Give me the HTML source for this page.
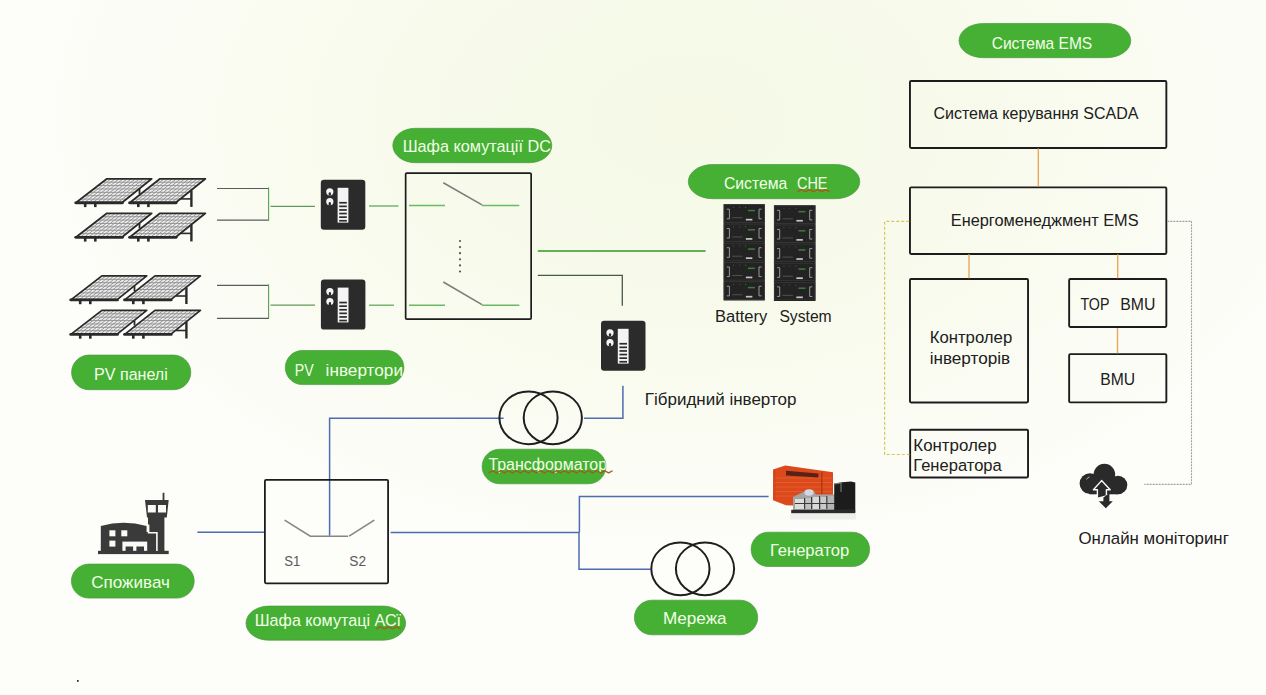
<!DOCTYPE html>
<html><head><meta charset="utf-8"><title>Diagram</title>
<style>html,body{margin:0;padding:0;background:#fbfcf7;width:1266px;height:695px;overflow:hidden}
svg{display:block}text{font-family:"Liberation Sans",sans-serif}</style></head>
<body>
<svg width="1266" height="695" viewBox="0 0 1266 695" font-family="Liberation Sans, sans-serif">
<defs>
<radialGradient id="bg" cx="690" cy="120" r="640" gradientUnits="userSpaceOnUse" gradientTransform="translate(690 120) scale(1 0.66) translate(-690 -120)">
<stop offset="0" stop-color="#f5f9e6"/><stop offset="0.55" stop-color="#f8fbed"/><stop offset="1" stop-color="#fdfdf9"/>
</radialGradient>
<filter id="soft" x="-5%" y="-5%" width="110%" height="110%"><feGaussianBlur stdDeviation="0.45"/></filter>
<clipPath id="cDC"><rect x="392.8" y="128.3" width="159" height="34.4" rx="22.6" ry="17.2"/></clipPath>
<clipPath id="cTR"><rect x="482.1" y="449.2" width="123.8" height="34.6" rx="17.6" ry="17.3"/></clipPath>
<clipPath id="cPVI"><rect x="285.3" y="350.5" width="118.6" height="34.1" rx="17"/></clipPath>
</defs>
<rect width="1266" height="695" fill="url(#bg)"/>
<polygon points="106.9,178.8 151.7,178.8 122.2,202.5 76.2,202.5" fill="#ececec" stroke="none"/>
<line x1="102.51" y1="182.19" x2="147.49" y2="182.19" stroke="#8f8f8f" stroke-width="0.9"/>
<line x1="98.13" y1="185.57" x2="143.27" y2="185.57" stroke="#8f8f8f" stroke-width="0.9"/>
<line x1="93.74" y1="188.96" x2="139.06" y2="188.96" stroke="#8f8f8f" stroke-width="0.9"/>
<line x1="89.36" y1="192.34" x2="134.84" y2="192.34" stroke="#8f8f8f" stroke-width="0.9"/>
<line x1="84.97" y1="195.73" x2="130.63" y2="195.73" stroke="#8f8f8f" stroke-width="0.9"/>
<line x1="80.59" y1="199.11" x2="126.41" y2="199.11" stroke="#8f8f8f" stroke-width="0.9"/>
<line x1="110.97" y1="178.8" x2="80.38" y2="202.5" stroke="#8f8f8f" stroke-width="0.9"/>
<line x1="115.05" y1="178.8" x2="84.56" y2="202.5" stroke="#8f8f8f" stroke-width="0.9"/>
<line x1="119.12" y1="178.8" x2="88.75" y2="202.5" stroke="#8f8f8f" stroke-width="0.9"/>
<line x1="123.19" y1="178.8" x2="92.93" y2="202.5" stroke="#8f8f8f" stroke-width="0.9"/>
<line x1="127.26" y1="178.8" x2="97.11" y2="202.5" stroke="#8f8f8f" stroke-width="0.9"/>
<line x1="131.34" y1="178.8" x2="101.29" y2="202.5" stroke="#8f8f8f" stroke-width="0.9"/>
<line x1="135.41" y1="178.8" x2="105.47" y2="202.5" stroke="#8f8f8f" stroke-width="0.9"/>
<line x1="139.48" y1="178.8" x2="109.65" y2="202.5" stroke="#8f8f8f" stroke-width="0.9"/>
<line x1="143.55" y1="178.8" x2="113.84" y2="202.5" stroke="#8f8f8f" stroke-width="0.9"/>
<line x1="147.63" y1="178.8" x2="118.02" y2="202.5" stroke="#8f8f8f" stroke-width="0.9"/>
<polygon points="106.9,178.8 151.7,178.8 122.2,202.5 76.2,202.5" fill="none" stroke="#2a2a2a" stroke-width="1.8" stroke-linejoin="round"/>
<line x1="75.7" y1="202.8" x2="122.5" y2="202.8" stroke="#2a2a2a" stroke-width="2.8" stroke-linecap="round"/>
<polygon points="160,178.8 205.4,178.8 175.9,202.5 130,202.5" fill="#ececec" stroke="none"/>
<line x1="155.71" y1="182.19" x2="201.19" y2="182.19" stroke="#8f8f8f" stroke-width="0.9"/>
<line x1="151.43" y1="185.57" x2="196.97" y2="185.57" stroke="#8f8f8f" stroke-width="0.9"/>
<line x1="147.14" y1="188.96" x2="192.76" y2="188.96" stroke="#8f8f8f" stroke-width="0.9"/>
<line x1="142.86" y1="192.34" x2="188.54" y2="192.34" stroke="#8f8f8f" stroke-width="0.9"/>
<line x1="138.57" y1="195.73" x2="184.33" y2="195.73" stroke="#8f8f8f" stroke-width="0.9"/>
<line x1="134.29" y1="199.11" x2="180.11" y2="199.11" stroke="#8f8f8f" stroke-width="0.9"/>
<line x1="164.13" y1="178.8" x2="134.17" y2="202.5" stroke="#8f8f8f" stroke-width="0.9"/>
<line x1="168.25" y1="178.8" x2="138.35" y2="202.5" stroke="#8f8f8f" stroke-width="0.9"/>
<line x1="172.38" y1="178.8" x2="142.52" y2="202.5" stroke="#8f8f8f" stroke-width="0.9"/>
<line x1="176.51" y1="178.8" x2="146.69" y2="202.5" stroke="#8f8f8f" stroke-width="0.9"/>
<line x1="180.64" y1="178.8" x2="150.86" y2="202.5" stroke="#8f8f8f" stroke-width="0.9"/>
<line x1="184.76" y1="178.8" x2="155.04" y2="202.5" stroke="#8f8f8f" stroke-width="0.9"/>
<line x1="188.89" y1="178.8" x2="159.21" y2="202.5" stroke="#8f8f8f" stroke-width="0.9"/>
<line x1="193.02" y1="178.8" x2="163.38" y2="202.5" stroke="#8f8f8f" stroke-width="0.9"/>
<line x1="197.15" y1="178.8" x2="167.55" y2="202.5" stroke="#8f8f8f" stroke-width="0.9"/>
<line x1="201.27" y1="178.8" x2="171.73" y2="202.5" stroke="#8f8f8f" stroke-width="0.9"/>
<polygon points="160,178.8 205.4,178.8 175.9,202.5 130,202.5" fill="none" stroke="#2a2a2a" stroke-width="1.8" stroke-linejoin="round"/>
<line x1="129.5" y1="202.8" x2="176.2" y2="202.8" stroke="#2a2a2a" stroke-width="2.8" stroke-linecap="round"/>
<line x1="85.2" y1="202.9" x2="85.2" y2="207.1" stroke="#2a2a2a" stroke-width="2.6"/>
<line x1="95.3" y1="202.9" x2="95.3" y2="207.1" stroke="#2a2a2a" stroke-width="2.6"/>
<line x1="138.3" y1="202.9" x2="138.3" y2="207.1" stroke="#2a2a2a" stroke-width="2.6"/>
<line x1="148.4" y1="202.9" x2="148.4" y2="207.1" stroke="#2a2a2a" stroke-width="2.6"/>
<line x1="191.4" y1="190.4" x2="191.4" y2="206.9" stroke="#2a2a2a" stroke-width="2.4"/>
<line x1="181" y1="198.9" x2="191.4" y2="198.9" stroke="#2a2a2a" stroke-width="1.6"/>
<line x1="139.5" y1="188.9" x2="139.5" y2="193.9" stroke="#2a2a2a" stroke-width="1.8"/>
<polygon points="106.9,213.3 151.7,213.3 122.2,237 76.2,237" fill="#ececec" stroke="none"/>
<line x1="102.51" y1="216.69" x2="147.49" y2="216.69" stroke="#8f8f8f" stroke-width="0.9"/>
<line x1="98.13" y1="220.07" x2="143.27" y2="220.07" stroke="#8f8f8f" stroke-width="0.9"/>
<line x1="93.74" y1="223.46" x2="139.06" y2="223.46" stroke="#8f8f8f" stroke-width="0.9"/>
<line x1="89.36" y1="226.84" x2="134.84" y2="226.84" stroke="#8f8f8f" stroke-width="0.9"/>
<line x1="84.97" y1="230.23" x2="130.63" y2="230.23" stroke="#8f8f8f" stroke-width="0.9"/>
<line x1="80.59" y1="233.61" x2="126.41" y2="233.61" stroke="#8f8f8f" stroke-width="0.9"/>
<line x1="110.97" y1="213.3" x2="80.38" y2="237" stroke="#8f8f8f" stroke-width="0.9"/>
<line x1="115.05" y1="213.3" x2="84.56" y2="237" stroke="#8f8f8f" stroke-width="0.9"/>
<line x1="119.12" y1="213.3" x2="88.75" y2="237" stroke="#8f8f8f" stroke-width="0.9"/>
<line x1="123.19" y1="213.3" x2="92.93" y2="237" stroke="#8f8f8f" stroke-width="0.9"/>
<line x1="127.26" y1="213.3" x2="97.11" y2="237" stroke="#8f8f8f" stroke-width="0.9"/>
<line x1="131.34" y1="213.3" x2="101.29" y2="237" stroke="#8f8f8f" stroke-width="0.9"/>
<line x1="135.41" y1="213.3" x2="105.47" y2="237" stroke="#8f8f8f" stroke-width="0.9"/>
<line x1="139.48" y1="213.3" x2="109.65" y2="237" stroke="#8f8f8f" stroke-width="0.9"/>
<line x1="143.55" y1="213.3" x2="113.84" y2="237" stroke="#8f8f8f" stroke-width="0.9"/>
<line x1="147.63" y1="213.3" x2="118.02" y2="237" stroke="#8f8f8f" stroke-width="0.9"/>
<polygon points="106.9,213.3 151.7,213.3 122.2,237 76.2,237" fill="none" stroke="#2a2a2a" stroke-width="1.8" stroke-linejoin="round"/>
<line x1="75.7" y1="237.3" x2="122.5" y2="237.3" stroke="#2a2a2a" stroke-width="2.8" stroke-linecap="round"/>
<polygon points="160,213.3 205.4,213.3 175.9,237 130,237" fill="#ececec" stroke="none"/>
<line x1="155.71" y1="216.69" x2="201.19" y2="216.69" stroke="#8f8f8f" stroke-width="0.9"/>
<line x1="151.43" y1="220.07" x2="196.97" y2="220.07" stroke="#8f8f8f" stroke-width="0.9"/>
<line x1="147.14" y1="223.46" x2="192.76" y2="223.46" stroke="#8f8f8f" stroke-width="0.9"/>
<line x1="142.86" y1="226.84" x2="188.54" y2="226.84" stroke="#8f8f8f" stroke-width="0.9"/>
<line x1="138.57" y1="230.23" x2="184.33" y2="230.23" stroke="#8f8f8f" stroke-width="0.9"/>
<line x1="134.29" y1="233.61" x2="180.11" y2="233.61" stroke="#8f8f8f" stroke-width="0.9"/>
<line x1="164.13" y1="213.3" x2="134.17" y2="237" stroke="#8f8f8f" stroke-width="0.9"/>
<line x1="168.25" y1="213.3" x2="138.35" y2="237" stroke="#8f8f8f" stroke-width="0.9"/>
<line x1="172.38" y1="213.3" x2="142.52" y2="237" stroke="#8f8f8f" stroke-width="0.9"/>
<line x1="176.51" y1="213.3" x2="146.69" y2="237" stroke="#8f8f8f" stroke-width="0.9"/>
<line x1="180.64" y1="213.3" x2="150.86" y2="237" stroke="#8f8f8f" stroke-width="0.9"/>
<line x1="184.76" y1="213.3" x2="155.04" y2="237" stroke="#8f8f8f" stroke-width="0.9"/>
<line x1="188.89" y1="213.3" x2="159.21" y2="237" stroke="#8f8f8f" stroke-width="0.9"/>
<line x1="193.02" y1="213.3" x2="163.38" y2="237" stroke="#8f8f8f" stroke-width="0.9"/>
<line x1="197.15" y1="213.3" x2="167.55" y2="237" stroke="#8f8f8f" stroke-width="0.9"/>
<line x1="201.27" y1="213.3" x2="171.73" y2="237" stroke="#8f8f8f" stroke-width="0.9"/>
<polygon points="160,213.3 205.4,213.3 175.9,237 130,237" fill="none" stroke="#2a2a2a" stroke-width="1.8" stroke-linejoin="round"/>
<line x1="129.5" y1="237.3" x2="176.2" y2="237.3" stroke="#2a2a2a" stroke-width="2.8" stroke-linecap="round"/>
<line x1="85.2" y1="237.4" x2="85.2" y2="241.6" stroke="#2a2a2a" stroke-width="2.6"/>
<line x1="95.3" y1="237.4" x2="95.3" y2="241.6" stroke="#2a2a2a" stroke-width="2.6"/>
<line x1="138.3" y1="237.4" x2="138.3" y2="241.6" stroke="#2a2a2a" stroke-width="2.6"/>
<line x1="148.4" y1="237.4" x2="148.4" y2="241.6" stroke="#2a2a2a" stroke-width="2.6"/>
<line x1="191.4" y1="224.9" x2="191.4" y2="241.4" stroke="#2a2a2a" stroke-width="2.4"/>
<line x1="181" y1="233.4" x2="191.4" y2="233.4" stroke="#2a2a2a" stroke-width="1.6"/>
<line x1="139.5" y1="223.4" x2="139.5" y2="228.4" stroke="#2a2a2a" stroke-width="1.8"/>
<polygon points="101.9,275.9 146.7,275.9 117.2,299.6 71.2,299.6" fill="#ececec" stroke="none"/>
<line x1="97.51" y1="279.29" x2="142.49" y2="279.29" stroke="#8f8f8f" stroke-width="0.9"/>
<line x1="93.13" y1="282.67" x2="138.27" y2="282.67" stroke="#8f8f8f" stroke-width="0.9"/>
<line x1="88.74" y1="286.06" x2="134.06" y2="286.06" stroke="#8f8f8f" stroke-width="0.9"/>
<line x1="84.36" y1="289.44" x2="129.84" y2="289.44" stroke="#8f8f8f" stroke-width="0.9"/>
<line x1="79.97" y1="292.83" x2="125.63" y2="292.83" stroke="#8f8f8f" stroke-width="0.9"/>
<line x1="75.59" y1="296.21" x2="121.41" y2="296.21" stroke="#8f8f8f" stroke-width="0.9"/>
<line x1="105.97" y1="275.9" x2="75.38" y2="299.6" stroke="#8f8f8f" stroke-width="0.9"/>
<line x1="110.05" y1="275.9" x2="79.56" y2="299.6" stroke="#8f8f8f" stroke-width="0.9"/>
<line x1="114.12" y1="275.9" x2="83.75" y2="299.6" stroke="#8f8f8f" stroke-width="0.9"/>
<line x1="118.19" y1="275.9" x2="87.93" y2="299.6" stroke="#8f8f8f" stroke-width="0.9"/>
<line x1="122.26" y1="275.9" x2="92.11" y2="299.6" stroke="#8f8f8f" stroke-width="0.9"/>
<line x1="126.34" y1="275.9" x2="96.29" y2="299.6" stroke="#8f8f8f" stroke-width="0.9"/>
<line x1="130.41" y1="275.9" x2="100.47" y2="299.6" stroke="#8f8f8f" stroke-width="0.9"/>
<line x1="134.48" y1="275.9" x2="104.65" y2="299.6" stroke="#8f8f8f" stroke-width="0.9"/>
<line x1="138.55" y1="275.9" x2="108.84" y2="299.6" stroke="#8f8f8f" stroke-width="0.9"/>
<line x1="142.63" y1="275.9" x2="113.02" y2="299.6" stroke="#8f8f8f" stroke-width="0.9"/>
<polygon points="101.9,275.9 146.7,275.9 117.2,299.6 71.2,299.6" fill="none" stroke="#2a2a2a" stroke-width="1.8" stroke-linejoin="round"/>
<line x1="70.7" y1="299.9" x2="117.5" y2="299.9" stroke="#2a2a2a" stroke-width="2.8" stroke-linecap="round"/>
<polygon points="155,275.9 200.4,275.9 170.9,299.6 125,299.6" fill="#ececec" stroke="none"/>
<line x1="150.71" y1="279.29" x2="196.19" y2="279.29" stroke="#8f8f8f" stroke-width="0.9"/>
<line x1="146.43" y1="282.67" x2="191.97" y2="282.67" stroke="#8f8f8f" stroke-width="0.9"/>
<line x1="142.14" y1="286.06" x2="187.76" y2="286.06" stroke="#8f8f8f" stroke-width="0.9"/>
<line x1="137.86" y1="289.44" x2="183.54" y2="289.44" stroke="#8f8f8f" stroke-width="0.9"/>
<line x1="133.57" y1="292.83" x2="179.33" y2="292.83" stroke="#8f8f8f" stroke-width="0.9"/>
<line x1="129.29" y1="296.21" x2="175.11" y2="296.21" stroke="#8f8f8f" stroke-width="0.9"/>
<line x1="159.13" y1="275.9" x2="129.17" y2="299.6" stroke="#8f8f8f" stroke-width="0.9"/>
<line x1="163.25" y1="275.9" x2="133.35" y2="299.6" stroke="#8f8f8f" stroke-width="0.9"/>
<line x1="167.38" y1="275.9" x2="137.52" y2="299.6" stroke="#8f8f8f" stroke-width="0.9"/>
<line x1="171.51" y1="275.9" x2="141.69" y2="299.6" stroke="#8f8f8f" stroke-width="0.9"/>
<line x1="175.64" y1="275.9" x2="145.86" y2="299.6" stroke="#8f8f8f" stroke-width="0.9"/>
<line x1="179.76" y1="275.9" x2="150.04" y2="299.6" stroke="#8f8f8f" stroke-width="0.9"/>
<line x1="183.89" y1="275.9" x2="154.21" y2="299.6" stroke="#8f8f8f" stroke-width="0.9"/>
<line x1="188.02" y1="275.9" x2="158.38" y2="299.6" stroke="#8f8f8f" stroke-width="0.9"/>
<line x1="192.15" y1="275.9" x2="162.55" y2="299.6" stroke="#8f8f8f" stroke-width="0.9"/>
<line x1="196.27" y1="275.9" x2="166.73" y2="299.6" stroke="#8f8f8f" stroke-width="0.9"/>
<polygon points="155,275.9 200.4,275.9 170.9,299.6 125,299.6" fill="none" stroke="#2a2a2a" stroke-width="1.8" stroke-linejoin="round"/>
<line x1="124.5" y1="299.9" x2="171.2" y2="299.9" stroke="#2a2a2a" stroke-width="2.8" stroke-linecap="round"/>
<line x1="80.2" y1="300" x2="80.2" y2="304.2" stroke="#2a2a2a" stroke-width="2.6"/>
<line x1="90.3" y1="300" x2="90.3" y2="304.2" stroke="#2a2a2a" stroke-width="2.6"/>
<line x1="133.3" y1="300" x2="133.3" y2="304.2" stroke="#2a2a2a" stroke-width="2.6"/>
<line x1="143.4" y1="300" x2="143.4" y2="304.2" stroke="#2a2a2a" stroke-width="2.6"/>
<line x1="186.4" y1="287.5" x2="186.4" y2="304" stroke="#2a2a2a" stroke-width="2.4"/>
<line x1="176" y1="296" x2="186.4" y2="296" stroke="#2a2a2a" stroke-width="1.6"/>
<line x1="134.5" y1="286" x2="134.5" y2="291" stroke="#2a2a2a" stroke-width="1.8"/>
<polygon points="101.9,310.4 146.7,310.4 117.2,334.1 71.2,334.1" fill="#ececec" stroke="none"/>
<line x1="97.51" y1="313.79" x2="142.49" y2="313.79" stroke="#8f8f8f" stroke-width="0.9"/>
<line x1="93.13" y1="317.17" x2="138.27" y2="317.17" stroke="#8f8f8f" stroke-width="0.9"/>
<line x1="88.74" y1="320.56" x2="134.06" y2="320.56" stroke="#8f8f8f" stroke-width="0.9"/>
<line x1="84.36" y1="323.94" x2="129.84" y2="323.94" stroke="#8f8f8f" stroke-width="0.9"/>
<line x1="79.97" y1="327.33" x2="125.63" y2="327.33" stroke="#8f8f8f" stroke-width="0.9"/>
<line x1="75.59" y1="330.71" x2="121.41" y2="330.71" stroke="#8f8f8f" stroke-width="0.9"/>
<line x1="105.97" y1="310.4" x2="75.38" y2="334.1" stroke="#8f8f8f" stroke-width="0.9"/>
<line x1="110.05" y1="310.4" x2="79.56" y2="334.1" stroke="#8f8f8f" stroke-width="0.9"/>
<line x1="114.12" y1="310.4" x2="83.75" y2="334.1" stroke="#8f8f8f" stroke-width="0.9"/>
<line x1="118.19" y1="310.4" x2="87.93" y2="334.1" stroke="#8f8f8f" stroke-width="0.9"/>
<line x1="122.26" y1="310.4" x2="92.11" y2="334.1" stroke="#8f8f8f" stroke-width="0.9"/>
<line x1="126.34" y1="310.4" x2="96.29" y2="334.1" stroke="#8f8f8f" stroke-width="0.9"/>
<line x1="130.41" y1="310.4" x2="100.47" y2="334.1" stroke="#8f8f8f" stroke-width="0.9"/>
<line x1="134.48" y1="310.4" x2="104.65" y2="334.1" stroke="#8f8f8f" stroke-width="0.9"/>
<line x1="138.55" y1="310.4" x2="108.84" y2="334.1" stroke="#8f8f8f" stroke-width="0.9"/>
<line x1="142.63" y1="310.4" x2="113.02" y2="334.1" stroke="#8f8f8f" stroke-width="0.9"/>
<polygon points="101.9,310.4 146.7,310.4 117.2,334.1 71.2,334.1" fill="none" stroke="#2a2a2a" stroke-width="1.8" stroke-linejoin="round"/>
<line x1="70.7" y1="334.4" x2="117.5" y2="334.4" stroke="#2a2a2a" stroke-width="2.8" stroke-linecap="round"/>
<polygon points="155,310.4 200.4,310.4 170.9,334.1 125,334.1" fill="#ececec" stroke="none"/>
<line x1="150.71" y1="313.79" x2="196.19" y2="313.79" stroke="#8f8f8f" stroke-width="0.9"/>
<line x1="146.43" y1="317.17" x2="191.97" y2="317.17" stroke="#8f8f8f" stroke-width="0.9"/>
<line x1="142.14" y1="320.56" x2="187.76" y2="320.56" stroke="#8f8f8f" stroke-width="0.9"/>
<line x1="137.86" y1="323.94" x2="183.54" y2="323.94" stroke="#8f8f8f" stroke-width="0.9"/>
<line x1="133.57" y1="327.33" x2="179.33" y2="327.33" stroke="#8f8f8f" stroke-width="0.9"/>
<line x1="129.29" y1="330.71" x2="175.11" y2="330.71" stroke="#8f8f8f" stroke-width="0.9"/>
<line x1="159.13" y1="310.4" x2="129.17" y2="334.1" stroke="#8f8f8f" stroke-width="0.9"/>
<line x1="163.25" y1="310.4" x2="133.35" y2="334.1" stroke="#8f8f8f" stroke-width="0.9"/>
<line x1="167.38" y1="310.4" x2="137.52" y2="334.1" stroke="#8f8f8f" stroke-width="0.9"/>
<line x1="171.51" y1="310.4" x2="141.69" y2="334.1" stroke="#8f8f8f" stroke-width="0.9"/>
<line x1="175.64" y1="310.4" x2="145.86" y2="334.1" stroke="#8f8f8f" stroke-width="0.9"/>
<line x1="179.76" y1="310.4" x2="150.04" y2="334.1" stroke="#8f8f8f" stroke-width="0.9"/>
<line x1="183.89" y1="310.4" x2="154.21" y2="334.1" stroke="#8f8f8f" stroke-width="0.9"/>
<line x1="188.02" y1="310.4" x2="158.38" y2="334.1" stroke="#8f8f8f" stroke-width="0.9"/>
<line x1="192.15" y1="310.4" x2="162.55" y2="334.1" stroke="#8f8f8f" stroke-width="0.9"/>
<line x1="196.27" y1="310.4" x2="166.73" y2="334.1" stroke="#8f8f8f" stroke-width="0.9"/>
<polygon points="155,310.4 200.4,310.4 170.9,334.1 125,334.1" fill="none" stroke="#2a2a2a" stroke-width="1.8" stroke-linejoin="round"/>
<line x1="124.5" y1="334.4" x2="171.2" y2="334.4" stroke="#2a2a2a" stroke-width="2.8" stroke-linecap="round"/>
<line x1="80.2" y1="334.5" x2="80.2" y2="338.7" stroke="#2a2a2a" stroke-width="2.6"/>
<line x1="90.3" y1="334.5" x2="90.3" y2="338.7" stroke="#2a2a2a" stroke-width="2.6"/>
<line x1="133.3" y1="334.5" x2="133.3" y2="338.7" stroke="#2a2a2a" stroke-width="2.6"/>
<line x1="143.4" y1="334.5" x2="143.4" y2="338.7" stroke="#2a2a2a" stroke-width="2.6"/>
<line x1="186.4" y1="322" x2="186.4" y2="338.5" stroke="#2a2a2a" stroke-width="2.4"/>
<line x1="176" y1="330.5" x2="186.4" y2="330.5" stroke="#2a2a2a" stroke-width="1.6"/>
<line x1="134.5" y1="320.5" x2="134.5" y2="325.5" stroke="#2a2a2a" stroke-width="1.8"/>
<rect x="320.8" y="179.8" width="44.5" height="50" rx="3.2" fill="#2b2b2b"/>
<circle cx="329.8" cy="191.8" r="3.6" fill="#f4f4f4"/>
<path d="M328.7,195.6 v-2.3 a1.1,1.1 0 0 1 2.2,0 v2.3 z" fill="#2b2b2b"/>
<circle cx="329.8" cy="201.7" r="3.6" fill="#f4f4f4"/>
<path d="M328.7,205.5 v-2.3 a1.1,1.1 0 0 1 2.2,0 v2.3 z" fill="#2b2b2b"/>
<rect x="337.6" y="187.8" width="10.8" height="34.8" fill="#f4f4f4"/>
<rect x="339.2" y="201.9" width="7.6" height="1.7" fill="#2b2b2b"/>
<rect x="339.2" y="205.5" width="7.6" height="1.7" fill="#2b2b2b"/>
<rect x="339.2" y="209.1" width="7.6" height="1.7" fill="#2b2b2b"/>
<rect x="339.2" y="212.7" width="7.6" height="1.7" fill="#2b2b2b"/>
<rect x="339.2" y="216.3" width="7.6" height="1.7" fill="#2b2b2b"/>
<rect x="339.2" y="219.9" width="7.6" height="1.7" fill="#2b2b2b"/>
<rect x="320.9" y="279.6" width="44.5" height="50" rx="3.2" fill="#2b2b2b"/>
<circle cx="329.9" cy="291.6" r="3.6" fill="#f4f4f4"/>
<path d="M328.8,295.4 v-2.3 a1.1,1.1 0 0 1 2.2,0 v2.3 z" fill="#2b2b2b"/>
<circle cx="329.9" cy="301.5" r="3.6" fill="#f4f4f4"/>
<path d="M328.8,305.3 v-2.3 a1.1,1.1 0 0 1 2.2,0 v2.3 z" fill="#2b2b2b"/>
<rect x="337.7" y="287.6" width="10.8" height="34.8" fill="#f4f4f4"/>
<rect x="339.3" y="301.7" width="7.6" height="1.7" fill="#2b2b2b"/>
<rect x="339.3" y="305.3" width="7.6" height="1.7" fill="#2b2b2b"/>
<rect x="339.3" y="308.9" width="7.6" height="1.7" fill="#2b2b2b"/>
<rect x="339.3" y="312.5" width="7.6" height="1.7" fill="#2b2b2b"/>
<rect x="339.3" y="316.1" width="7.6" height="1.7" fill="#2b2b2b"/>
<rect x="339.3" y="319.7" width="7.6" height="1.7" fill="#2b2b2b"/>
<rect x="601" y="320.8" width="44.5" height="50" rx="3.2" fill="#2b2b2b"/>
<circle cx="610" cy="332.8" r="3.6" fill="#f4f4f4"/>
<path d="M608.9,336.6 v-2.3 a1.1,1.1 0 0 1 2.2,0 v2.3 z" fill="#2b2b2b"/>
<circle cx="610" cy="342.7" r="3.6" fill="#f4f4f4"/>
<path d="M608.9,346.5 v-2.3 a1.1,1.1 0 0 1 2.2,0 v2.3 z" fill="#2b2b2b"/>
<rect x="617.8" y="328.8" width="10.8" height="34.8" fill="#f4f4f4"/>
<rect x="619.4" y="342.9" width="7.6" height="1.7" fill="#2b2b2b"/>
<rect x="619.4" y="346.5" width="7.6" height="1.7" fill="#2b2b2b"/>
<rect x="619.4" y="350.1" width="7.6" height="1.7" fill="#2b2b2b"/>
<rect x="619.4" y="353.7" width="7.6" height="1.7" fill="#2b2b2b"/>
<rect x="619.4" y="357.3" width="7.6" height="1.7" fill="#2b2b2b"/>
<rect x="619.4" y="360.9" width="7.6" height="1.7" fill="#2b2b2b"/>
<line x1="217" y1="188.5" x2="269" y2="188.5" stroke="#575e57" stroke-width="1.2" />
<line x1="217" y1="220.2" x2="269" y2="220.2" stroke="#575e57" stroke-width="1.2" />
<line x1="268.6" y1="187.5" x2="268.6" y2="220.2" stroke="#58a04e" stroke-width="1.1" />
<line x1="270.5" y1="206.3" x2="315" y2="206.3" stroke="#649a5a" stroke-width="1.3" />
<line x1="217" y1="285.4" x2="269" y2="285.4" stroke="#575e57" stroke-width="1.2" />
<line x1="217" y1="318.3" x2="269" y2="318.3" stroke="#575e57" stroke-width="1.2" />
<line x1="268.6" y1="284.4" x2="268.6" y2="318.3" stroke="#58a04e" stroke-width="1.1" />
<line x1="270.5" y1="305.1" x2="315" y2="305.1" stroke="#649a5a" stroke-width="1.3" />
<line x1="369" y1="206" x2="398.4" y2="206" stroke="#62aa5a" stroke-width="1.3" />
<line x1="369" y1="305.2" x2="394" y2="305.2" stroke="#62aa5a" stroke-width="1.3" />
<rect x="405.65" y="173.15" width="125.5" height="146" rx="1.2" fill="none" stroke="#1c1c1c" stroke-width="1.7"/>
<line x1="409" y1="205.5" x2="445" y2="205.5" stroke="#6aba62" stroke-width="1.5" />
<line x1="482" y1="205.5" x2="519.3" y2="205.5" stroke="#6aba62" stroke-width="1.5" />
<line x1="443.3" y1="182.7" x2="482" y2="204.9" stroke="#7d7d7d" stroke-width="1.6" />
<line x1="409" y1="305.2" x2="445" y2="305.2" stroke="#6aba62" stroke-width="1.5" />
<line x1="482" y1="305.2" x2="519.3" y2="305.2" stroke="#6aba62" stroke-width="1.5" />
<line x1="443.3" y1="282" x2="482" y2="304.6" stroke="#7d7d7d" stroke-width="1.6" />
<circle cx="460" cy="241" r="1.1" fill="#555"/>
<circle cx="460" cy="247.1" r="1.1" fill="#555"/>
<circle cx="460" cy="253.2" r="1.1" fill="#555"/>
<circle cx="460" cy="259.3" r="1.1" fill="#555"/>
<circle cx="460" cy="265.4" r="1.1" fill="#555"/>
<circle cx="460" cy="271.5" r="1.1" fill="#555"/>
<line x1="537.8" y1="251" x2="705.6" y2="251" stroke="#5db355" stroke-width="2" />
<polyline points="537.8,275.3 622.3,275.3 622.3,305.8" fill="none" stroke="#4a574a" stroke-width="1.3" />
<rect x="723.6" y="204.2" width="41.2" height="96.3" fill="#1d1d1d"/>
<rect x="724.1" y="204.7" width="40.2" height="17.66" fill="#232323" stroke="#3b3b3b" stroke-width="0.8"/>
<path d="M726.8,209.2 h2.6 v9.6 h-2.6" fill="none" stroke="#9a9a9a" stroke-width="1"/>
<path d="M761.6,209.2 h-2.6 v9.6 h2.6" fill="none" stroke="#9a9a9a" stroke-width="1"/>
<rect x="747.91" y="209.8" width="7" height="1.5" fill="#3e7a3e"/>
<rect x="745.85" y="218.8" width="6.5" height="1.7" fill="#c4c4c4"/>
<line x1="732.1" y1="217.7" x2="742.55" y2="217.7" stroke="#5a5a5a" stroke-width="0.8"/>
<circle cx="733.6" cy="207.4" r="0.6" fill="#4a4a4a"/><circle cx="739.6" cy="207.4" r="0.6" fill="#4a4a4a"/><circle cx="745.6" cy="207.4" r="0.6" fill="#3e6a3e"/>
<rect x="724.1" y="223.96" width="40.2" height="17.66" fill="#232323" stroke="#3b3b3b" stroke-width="0.8"/>
<path d="M726.8,228.46 h2.6 v9.6 h-2.6" fill="none" stroke="#9a9a9a" stroke-width="1"/>
<path d="M761.6,228.46 h-2.6 v9.6 h2.6" fill="none" stroke="#9a9a9a" stroke-width="1"/>
<rect x="747.91" y="229.06" width="7" height="1.5" fill="#3e7a3e"/>
<rect x="745.85" y="238.06" width="6.5" height="1.7" fill="#c4c4c4"/>
<line x1="732.1" y1="236.96" x2="742.55" y2="236.96" stroke="#5a5a5a" stroke-width="0.8"/>
<circle cx="733.6" cy="226.66" r="0.6" fill="#4a4a4a"/><circle cx="739.6" cy="226.66" r="0.6" fill="#4a4a4a"/><circle cx="745.6" cy="226.66" r="0.6" fill="#3e6a3e"/>
<rect x="724.1" y="243.22" width="40.2" height="17.66" fill="#232323" stroke="#3b3b3b" stroke-width="0.8"/>
<path d="M726.8,247.72 h2.6 v9.6 h-2.6" fill="none" stroke="#9a9a9a" stroke-width="1"/>
<path d="M761.6,247.72 h-2.6 v9.6 h2.6" fill="none" stroke="#9a9a9a" stroke-width="1"/>
<rect x="747.91" y="248.32" width="7" height="1.5" fill="#3e7a3e"/>
<rect x="745.85" y="257.32" width="6.5" height="1.7" fill="#c4c4c4"/>
<line x1="732.1" y1="256.22" x2="742.55" y2="256.22" stroke="#5a5a5a" stroke-width="0.8"/>
<circle cx="733.6" cy="245.92" r="0.6" fill="#4a4a4a"/><circle cx="739.6" cy="245.92" r="0.6" fill="#4a4a4a"/><circle cx="745.6" cy="245.92" r="0.6" fill="#3e6a3e"/>
<rect x="724.1" y="262.48" width="40.2" height="17.66" fill="#232323" stroke="#3b3b3b" stroke-width="0.8"/>
<path d="M726.8,266.98 h2.6 v9.6 h-2.6" fill="none" stroke="#9a9a9a" stroke-width="1"/>
<path d="M761.6,266.98 h-2.6 v9.6 h2.6" fill="none" stroke="#9a9a9a" stroke-width="1"/>
<rect x="747.91" y="267.58" width="7" height="1.5" fill="#3e7a3e"/>
<rect x="745.85" y="276.58" width="6.5" height="1.7" fill="#c4c4c4"/>
<line x1="732.1" y1="275.48" x2="742.55" y2="275.48" stroke="#5a5a5a" stroke-width="0.8"/>
<circle cx="733.6" cy="265.18" r="0.6" fill="#4a4a4a"/><circle cx="739.6" cy="265.18" r="0.6" fill="#4a4a4a"/><circle cx="745.6" cy="265.18" r="0.6" fill="#3e6a3e"/>
<rect x="724.1" y="281.74" width="40.2" height="17.66" fill="#232323" stroke="#3b3b3b" stroke-width="0.8"/>
<path d="M726.8,286.24 h2.6 v9.6 h-2.6" fill="none" stroke="#9a9a9a" stroke-width="1"/>
<path d="M761.6,286.24 h-2.6 v9.6 h2.6" fill="none" stroke="#9a9a9a" stroke-width="1"/>
<rect x="747.91" y="286.84" width="7" height="1.5" fill="#3e7a3e"/>
<rect x="745.85" y="295.84" width="6.5" height="1.7" fill="#c4c4c4"/>
<line x1="732.1" y1="294.74" x2="742.55" y2="294.74" stroke="#5a5a5a" stroke-width="0.8"/>
<circle cx="733.6" cy="284.44" r="0.6" fill="#4a4a4a"/><circle cx="739.6" cy="284.44" r="0.6" fill="#4a4a4a"/><circle cx="745.6" cy="284.44" r="0.6" fill="#3e6a3e"/>
<rect x="773.9" y="205.3" width="41.6" height="95.7" fill="#1d1d1d"/>
<rect x="774.4" y="205.8" width="40.6" height="17.54" fill="#232323" stroke="#3b3b3b" stroke-width="0.8"/>
<path d="M777.1,210.3 h2.6 v9.6 h-2.6" fill="none" stroke="#9a9a9a" stroke-width="1"/>
<path d="M812.3,210.3 h-2.6 v9.6 h2.6" fill="none" stroke="#9a9a9a" stroke-width="1"/>
<rect x="798.44" y="210.9" width="7" height="1.5" fill="#3e7a3e"/>
<rect x="796.36" y="219.9" width="6.5" height="1.7" fill="#c4c4c4"/>
<line x1="782.4" y1="218.8" x2="793.04" y2="218.8" stroke="#5a5a5a" stroke-width="0.8"/>
<circle cx="783.9" cy="208.5" r="0.6" fill="#4a4a4a"/><circle cx="789.9" cy="208.5" r="0.6" fill="#4a4a4a"/><circle cx="795.9" cy="208.5" r="0.6" fill="#3e6a3e"/>
<rect x="774.4" y="224.94" width="40.6" height="17.54" fill="#232323" stroke="#3b3b3b" stroke-width="0.8"/>
<path d="M777.1,229.44 h2.6 v9.6 h-2.6" fill="none" stroke="#9a9a9a" stroke-width="1"/>
<path d="M812.3,229.44 h-2.6 v9.6 h2.6" fill="none" stroke="#9a9a9a" stroke-width="1"/>
<rect x="798.44" y="230.04" width="7" height="1.5" fill="#3e7a3e"/>
<rect x="796.36" y="239.04" width="6.5" height="1.7" fill="#c4c4c4"/>
<line x1="782.4" y1="237.94" x2="793.04" y2="237.94" stroke="#5a5a5a" stroke-width="0.8"/>
<circle cx="783.9" cy="227.64" r="0.6" fill="#4a4a4a"/><circle cx="789.9" cy="227.64" r="0.6" fill="#4a4a4a"/><circle cx="795.9" cy="227.64" r="0.6" fill="#3e6a3e"/>
<rect x="774.4" y="244.08" width="40.6" height="17.54" fill="#232323" stroke="#3b3b3b" stroke-width="0.8"/>
<path d="M777.1,248.58 h2.6 v9.6 h-2.6" fill="none" stroke="#9a9a9a" stroke-width="1"/>
<path d="M812.3,248.58 h-2.6 v9.6 h2.6" fill="none" stroke="#9a9a9a" stroke-width="1"/>
<rect x="798.44" y="249.18" width="7" height="1.5" fill="#3e7a3e"/>
<rect x="796.36" y="258.18" width="6.5" height="1.7" fill="#c4c4c4"/>
<line x1="782.4" y1="257.08" x2="793.04" y2="257.08" stroke="#5a5a5a" stroke-width="0.8"/>
<circle cx="783.9" cy="246.78" r="0.6" fill="#4a4a4a"/><circle cx="789.9" cy="246.78" r="0.6" fill="#4a4a4a"/><circle cx="795.9" cy="246.78" r="0.6" fill="#3e6a3e"/>
<rect x="774.4" y="263.22" width="40.6" height="17.54" fill="#232323" stroke="#3b3b3b" stroke-width="0.8"/>
<path d="M777.1,267.72 h2.6 v9.6 h-2.6" fill="none" stroke="#9a9a9a" stroke-width="1"/>
<path d="M812.3,267.72 h-2.6 v9.6 h2.6" fill="none" stroke="#9a9a9a" stroke-width="1"/>
<rect x="798.44" y="268.32" width="7" height="1.5" fill="#3e7a3e"/>
<rect x="796.36" y="277.32" width="6.5" height="1.7" fill="#c4c4c4"/>
<line x1="782.4" y1="276.22" x2="793.04" y2="276.22" stroke="#5a5a5a" stroke-width="0.8"/>
<circle cx="783.9" cy="265.92" r="0.6" fill="#4a4a4a"/><circle cx="789.9" cy="265.92" r="0.6" fill="#4a4a4a"/><circle cx="795.9" cy="265.92" r="0.6" fill="#3e6a3e"/>
<rect x="774.4" y="282.36" width="40.6" height="17.54" fill="#232323" stroke="#3b3b3b" stroke-width="0.8"/>
<path d="M777.1,286.86 h2.6 v9.6 h-2.6" fill="none" stroke="#9a9a9a" stroke-width="1"/>
<path d="M812.3,286.86 h-2.6 v9.6 h2.6" fill="none" stroke="#9a9a9a" stroke-width="1"/>
<rect x="798.44" y="287.46" width="7" height="1.5" fill="#3e7a3e"/>
<rect x="796.36" y="296.46" width="6.5" height="1.7" fill="#c4c4c4"/>
<line x1="782.4" y1="295.36" x2="793.04" y2="295.36" stroke="#5a5a5a" stroke-width="0.8"/>
<circle cx="783.9" cy="285.06" r="0.6" fill="#4a4a4a"/><circle cx="789.9" cy="285.06" r="0.6" fill="#4a4a4a"/><circle cx="795.9" cy="285.06" r="0.6" fill="#3e6a3e"/>
<polyline points="622.9,385.7 622.9,418.3 584,418.3" fill="none" stroke="#4e6cb0" stroke-width="1.5" />
<polyline points="503.6,418.3 329.6,418.3 329.6,535.7" fill="none" stroke="#4e6cb0" stroke-width="1.5" />
<line x1="197.3" y1="532.2" x2="264.6" y2="532.2" stroke="#4e6cb0" stroke-width="1.5" />
<line x1="390.6" y1="532.4" x2="579.4" y2="532.4" stroke="#4e6cb0" stroke-width="1.5" />
<polyline points="768.6,496.5 579.4,496.5 579.4,532.4" fill="none" stroke="#4e6cb0" stroke-width="1.5" />
<polyline points="579,532.4 579,569.2 650.6,569.2" fill="none" stroke="#4e6cb0" stroke-width="1.5" />
<ellipse cx="528.5" cy="417.8" rx="29.1" ry="26.4" fill="none" stroke="#1e1e1e" stroke-width="2"/>
<ellipse cx="552.8" cy="417.8" rx="29.1" ry="26.4" fill="none" stroke="#1e1e1e" stroke-width="2"/>
<ellipse cx="680.4" cy="568.8" rx="29.1" ry="26.4" fill="none" stroke="#1e1e1e" stroke-width="2"/>
<ellipse cx="705.0" cy="568.8" rx="29.1" ry="26.4" fill="none" stroke="#1e1e1e" stroke-width="2"/>
<rect x="264.9" y="479.9" width="123.2" height="103.4" rx="1.2" fill="none" stroke="#1c1c1c" stroke-width="1.8"/>
<polyline points="284.6,520.1 310.3,536.2 348.1,536.2" fill="none" stroke="#858585" stroke-width="1.6" />
<line x1="349.1" y1="536.2" x2="374.3" y2="520.1" stroke="#858585" stroke-width="1.6" />
<g fill="#3a3a3a">
<path d="M100.8,554 V526 Q123.5,519.5 146.6,526 V554 Z"/>
<rect x="98" y="550.8" width="70.7" height="3.3"/>
<rect x="162.6" y="492.8" width="1.8" height="8"/>
<path d="M145,500 H168.7 L166.8,517.4 H147 Z"/>
<rect x="148" y="517" width="16.4" height="37"/>
<rect x="146" y="532" width="12" height="22"/>
</g>
<g fill="#fafaf6">
<rect x="147.8" y="505" width="8" height="7.5"/><rect x="158" y="505" width="8" height="7.5"/>
<rect x="109.4" y="530.3" width="6" height="6"/><rect x="121.3" y="530.3" width="6" height="6"/><rect x="109.4" y="540.6" width="6" height="6"/>
<rect x="122.4" y="541.6" width="24.8" height="9.2"/>
<path d="M146.6,526 V531 H153 V554 H155.3 V534.6 H150.4 V521" fill="none"/>
</g>
<rect x="125.6" y="546.5" width="7.5" height="7.5" fill="#3a3a3a"/><rect x="136.4" y="546.5" width="7.6" height="7.5" fill="#3a3a3a"/>
<path d="M148.6,524.5 V532.8 H156.9 V551" fill="none" stroke="#fafaf6" stroke-width="1.6"/>

<g filter="url(#soft)">
<rect x="790" y="513.5" width="66" height="6" fill="#e4e4e4" opacity="0.6"/>
<path d="M773,469.4 L785.3,465.4 L833,472.2 L833,495 L793,505.5 L786,505.3 L773,500.3 Z" fill="#dc4a1c"/>
<path d="M774,478 H832 M774,482.5 H832 M774,487 H832 M774,491.5 H832 M774,496 H822" stroke="#ee7a44" stroke-width="0.7" fill="none" opacity="0.55"/>
<path d="M786,470.8 L818.4,473.5 L818.4,477.5 L786,475.5 Z" fill="#5a2414"/>
<path d="M821.8,472 V494" stroke="#a83410" stroke-width="1.4" fill="none" opacity="0.8"/>
<path d="M775,470 V499" stroke="#b83c14" stroke-width="0.8" fill="none" opacity="0.6"/>
<path d="M793,510.5 L793,497 L800,493.5 L808,490 L813,490 L816,494.4 L836.8,494.4 L836.8,510.5 Z" fill="#a4a4a4"/>
<ellipse cx="809" cy="492.5" rx="4.5" ry="3.2" fill="#d4d6de"/>
<rect x="795" y="499" width="9" height="10" fill="#dcdcdc"/>
<rect x="806" y="498" width="5" height="11" fill="#c0c0c0"/>
<rect x="813" y="497" width="6" height="12" fill="#d8d8d8"/>
<rect x="821" y="497" width="5" height="12" fill="#cacaca"/>
<rect x="828" y="496" width="7" height="13" fill="#b4b4b4"/>
<path d="M804.5,498 V509 M811.5,497 V509 M819.5,496 V509 M826.8,496 V509 M795,503.5 H836" stroke="#3a3a3a" stroke-width="1" fill="none"/>
<path d="M834.2,483.5 L842,482.2 L851,481.5 L855.3,482.5 L855.3,512.6 L834.2,512.6 Z" fill="#1e1e1e"/>
<path d="M835,484 L841,483 L841,492" stroke="#9a9a9a" stroke-width="0.8" fill="none"/>
<rect x="791.2" y="509.8" width="64" height="3.4" fill="#2a2a2a"/>
</g>
<rect x="909.95" y="80.95" width="256.4" height="67.1" rx="1.2" fill="none" stroke="#1c1c1c" stroke-width="1.9"/>
<rect x="909.95" y="187.35" width="256.4" height="66.7" rx="1.2" fill="none" stroke="#1c1c1c" stroke-width="1.9"/>
<rect x="909.95" y="279.05" width="118.1" height="123.5" rx="1.2" fill="none" stroke="#1c1c1c" stroke-width="1.9"/>
<rect x="1069.15" y="279.05" width="97.2" height="48" rx="1.2" fill="none" stroke="#1c1c1c" stroke-width="1.9"/>
<rect x="1069.15" y="354.15" width="97.2" height="48.2" rx="1.2" fill="none" stroke="#1c1c1c" stroke-width="1.9"/>
<rect x="910.15" y="429.75" width="117.9" height="47.8" rx="1.2" fill="none" stroke="#1c1c1c" stroke-width="1.9"/>
<line x1="1038.3" y1="148.4" x2="1038.3" y2="186.6" stroke="#eaa85a" stroke-width="1.4" />
<line x1="969" y1="254.2" x2="969" y2="278.2" stroke="#eaa85a" stroke-width="1.4" />
<line x1="1117.7" y1="254.2" x2="1117.7" y2="278.2" stroke="#eaa85a" stroke-width="1.4" />
<line x1="1117.5" y1="328" x2="1117.5" y2="353.3" stroke="#eaa85a" stroke-width="1.4" />
<polyline points="909.3,221.4 884.6,221.4 884.6,454.5 909.5,454.5" fill="none" stroke="#d4c85a" stroke-width="1.2" stroke-dasharray="3 2"/>
<polyline points="1167.4,221.4 1191.5,221.4 1191.5,484.4 1144.3,484.4" fill="none" stroke="#a0a0a0" stroke-width="1.1" stroke-dasharray="2 1"/>
<g fill="#2a2a2a">
<circle cx="1090" cy="483.6" r="10.4"/>
<circle cx="1104.4" cy="474.6" r="10.8"/>
<circle cx="1118" cy="485" r="9.3"/>
<rect x="1089.4" y="480" width="28.6" height="14.3"/>
</g>
<path d="M1101.6,480.6 L1093.4,489.8 L1097.4,489.8 L1097.4,498.5 L1106.4,496 L1106.4,489.8 L1110.2,489.8 Z" fill="#2a2a2a" stroke="#fafaf8" stroke-width="1.4" stroke-linejoin="round"/>
<path d="M1103.4,497.5 L1103.4,501.2 L1098.8,501.2 L1105.8,508.3 L1112.8,501.2 L1109.4,501.2 L1109.4,493 Z" fill="#2a2a2a"/>
<path d="M1086.5,479.5 Q1087.5,477.2 1089.5,477" fill="none" stroke="#cfcfcf" stroke-width="0.8"/>

<rect x="959" y="23.5" width="171.8" height="34.2" rx="24.4" ry="17.1" fill="#45b034" stroke="#4e9a42" stroke-width="0.7"/>
<rect x="392.8" y="128.3" width="159" height="34.4" rx="22.58" ry="17.2" fill="#45b034" stroke="#4e9a42" stroke-width="0.7"/>
<rect x="688.3" y="164.5" width="171.5" height="34.2" rx="24.35" ry="17.1" fill="#45b034" stroke="#4e9a42" stroke-width="0.7"/>
<rect x="71.6" y="355.1" width="119.2" height="34.6" rx="17.3" ry="17.3" fill="#45b034" stroke="#4e9a42" stroke-width="0.7"/>
<rect x="285.3" y="350.5" width="118.6" height="34.1" rx="17.05" ry="17.05" fill="#45b034" stroke="#4e9a42" stroke-width="0.7"/>
<rect x="482.1" y="449.2" width="123.8" height="34.6" rx="17.58" ry="17.3" fill="#45b034" stroke="#4e9a42" stroke-width="0.7"/>
<rect x="71.4" y="564.1" width="122.8" height="34" rx="17.44" ry="17" fill="#45b034" stroke="#4e9a42" stroke-width="0.7"/>
<rect x="751.1" y="532.2" width="118.5" height="34.3" rx="17.15" ry="17.15" fill="#45b034" stroke="#4e9a42" stroke-width="0.7"/>
<rect x="634.4" y="600.2" width="123.3" height="34.6" rx="17.51" ry="17.3" fill="#45b034" stroke="#4e9a42" stroke-width="0.7"/>
<rect x="246" y="606.1" width="159.6" height="34.1" rx="22.66" ry="17.05" fill="#45b034" stroke="#4e9a42" stroke-width="0.7"/>
<text x="991.7" y="49.4" font-size="16.3" fill="#f2ffe6" textLength="100.5" lengthAdjust="spacingAndGlyphs" xml:space="preserve">Система EMS</text>
<text x="402.7" y="152.2" font-size="16.3" fill="#f2ffe6" textLength="148.2" lengthAdjust="spacingAndGlyphs" xml:space="preserve" clip-path="url(#cDC)">Шафа комутації DC</text>
<text x="723.9" y="189.4" font-size="16.3" fill="#f2ffe6" textLength="63.4" lengthAdjust="spacingAndGlyphs" xml:space="preserve">Система</text>
<text x="797" y="189.4" font-size="16.3" fill="#f2ffe6" textLength="30.5" lengthAdjust="spacingAndGlyphs" xml:space="preserve">CHE</text>
<text x="94.1" y="379.6" font-size="16.3" fill="#f2ffe6" textLength="73.7" lengthAdjust="spacingAndGlyphs" xml:space="preserve">PV панелі</text>
<text x="294.7" y="375.5" font-size="16.3" fill="#f2ffe6" textLength="18.9" lengthAdjust="spacingAndGlyphs" xml:space="preserve">PV</text>
<text x="325.6" y="375.5" font-size="16.3" fill="#f2ffe6" textLength="77.4" lengthAdjust="spacingAndGlyphs" xml:space="preserve" clip-path="url(#cPVI)">інвертори</text>
<text x="488.4" y="469.6" font-size="16.3" fill="#f2ffe6" textLength="118.7" lengthAdjust="spacingAndGlyphs" xml:space="preserve" clip-path="url(#cTR)">Трансформатор</text>
<text x="91.3" y="587.7" font-size="16.3" fill="#f2ffe6" textLength="78.6" lengthAdjust="spacingAndGlyphs" xml:space="preserve">Споживач</text>
<text x="769.9" y="555.5" font-size="16.3" fill="#f2ffe6" textLength="79.4" lengthAdjust="spacingAndGlyphs" xml:space="preserve">Генератор</text>
<text x="662.9" y="624.3" font-size="16.3" fill="#f2ffe6" textLength="63.7" lengthAdjust="spacingAndGlyphs" xml:space="preserve">Мережа</text>
<text x="254.8" y="626.2" font-size="16.3" fill="#f2ffe6" textLength="146.3" lengthAdjust="spacingAndGlyphs" xml:space="preserve">Шафа комутаці АСї</text>
<text x="933.4" y="118.9" font-size="16.3" fill="#202020" textLength="205" lengthAdjust="spacingAndGlyphs" xml:space="preserve">Система керування SCADA</text>
<text x="950.8" y="225.6" font-size="16.3" fill="#202020" textLength="187.8" lengthAdjust="spacingAndGlyphs" xml:space="preserve">Енергоменеджмент EMS</text>
<text x="929.7" y="343.2" font-size="16.3" fill="#202020" textLength="82.5" lengthAdjust="spacingAndGlyphs" xml:space="preserve">Контролер</text>
<text x="929.7" y="364.2" font-size="16.3" fill="#202020" textLength="80.4" lengthAdjust="spacingAndGlyphs" xml:space="preserve">інверторів</text>
<text x="1080.4" y="310.3" font-size="16.3" fill="#202020" textLength="29" lengthAdjust="spacingAndGlyphs" xml:space="preserve">TOP</text>
<text x="1120.2" y="310.3" font-size="16.3" fill="#202020" textLength="35.1" lengthAdjust="spacingAndGlyphs" xml:space="preserve">BMU</text>
<text x="1100.2" y="385.2" font-size="16.3" fill="#202020" textLength="34.9" lengthAdjust="spacingAndGlyphs" xml:space="preserve">BMU</text>
<text x="913.3" y="451.2" font-size="16.3" fill="#202020" textLength="83.3" lengthAdjust="spacingAndGlyphs" xml:space="preserve">Контролер</text>
<text x="913.3" y="471.2" font-size="16.3" fill="#202020" textLength="88.5" lengthAdjust="spacingAndGlyphs" xml:space="preserve">Генератора</text>
<text x="1078.5" y="544.2" font-size="16.3" fill="#202020" textLength="150.3" lengthAdjust="spacingAndGlyphs" xml:space="preserve">Онлайн моніторинг</text>
<text x="644.8" y="405.1" font-size="16.3" fill="#202020" textLength="151.6" lengthAdjust="spacingAndGlyphs" xml:space="preserve">Гібридний інвертор</text>
<text x="715" y="321.8" font-size="16.0" fill="#202020" textLength="52.3" lengthAdjust="spacingAndGlyphs" xml:space="preserve">Battery</text>
<text x="779.4" y="321.8" font-size="16.0" fill="#202020" textLength="52.3" lengthAdjust="spacingAndGlyphs" xml:space="preserve">System</text>
<text x="284.3" y="566.1" font-size="15.5" fill="#5a5a5a" textLength="16.1" lengthAdjust="spacingAndGlyphs" xml:space="preserve">S1</text>
<text x="349.3" y="566.1" font-size="15.5" fill="#5a5a5a" textLength="16.8" lengthAdjust="spacingAndGlyphs" xml:space="preserve">S2</text>
<rect x="77" y="680" width="1.6" height="1.8" fill="#222"/>
<path d="M797.5,191.6 L801.5,189.55 L805.5,191.65 L809.5,189.55 L813.5,191.65 L817.5,189.55 L821.5,191.65 L825.5,189.55 L829.5,191.65" fill="none" stroke="#a85a18" stroke-width="1.4" stroke-linejoin="round"/>
<path d="M488.6,472.8 L492.6,470.75 L496.6,472.85 L500.6,470.75 L504.6,472.85 L508.6,470.75 L512.6,472.85 L516.6,470.75 L520.6,472.85 L524.6,470.75 L528.6,472.85 L532.6,470.75 L536.6,472.85 L540.6,470.75 L544.6,472.85 L548.6,470.75 L552.6,472.85 L556.6,470.75 L560.6,472.85 L564.6,470.75 L568.6,472.85 L572.6,470.75 L576.6,472.85 L580.6,470.75 L584.6,472.85 L588.6,470.75 L592.6,472.85 L596.6,470.75 L600.6,472.85 L604.6,470.75 L608.6,472.85 L612.6,470.75" fill="none" stroke="#a85a18" stroke-width="1.4" stroke-linejoin="round"/>
<path d="M376.5,628.8 L380.5,626.75 L384.5,628.85 L388.5,626.75 L392.5,628.85 L396.5,626.75 L400.5,628.85" fill="none" stroke="#a85a18" stroke-width="1.4" stroke-linejoin="round"/>
</svg>
</body></html>
